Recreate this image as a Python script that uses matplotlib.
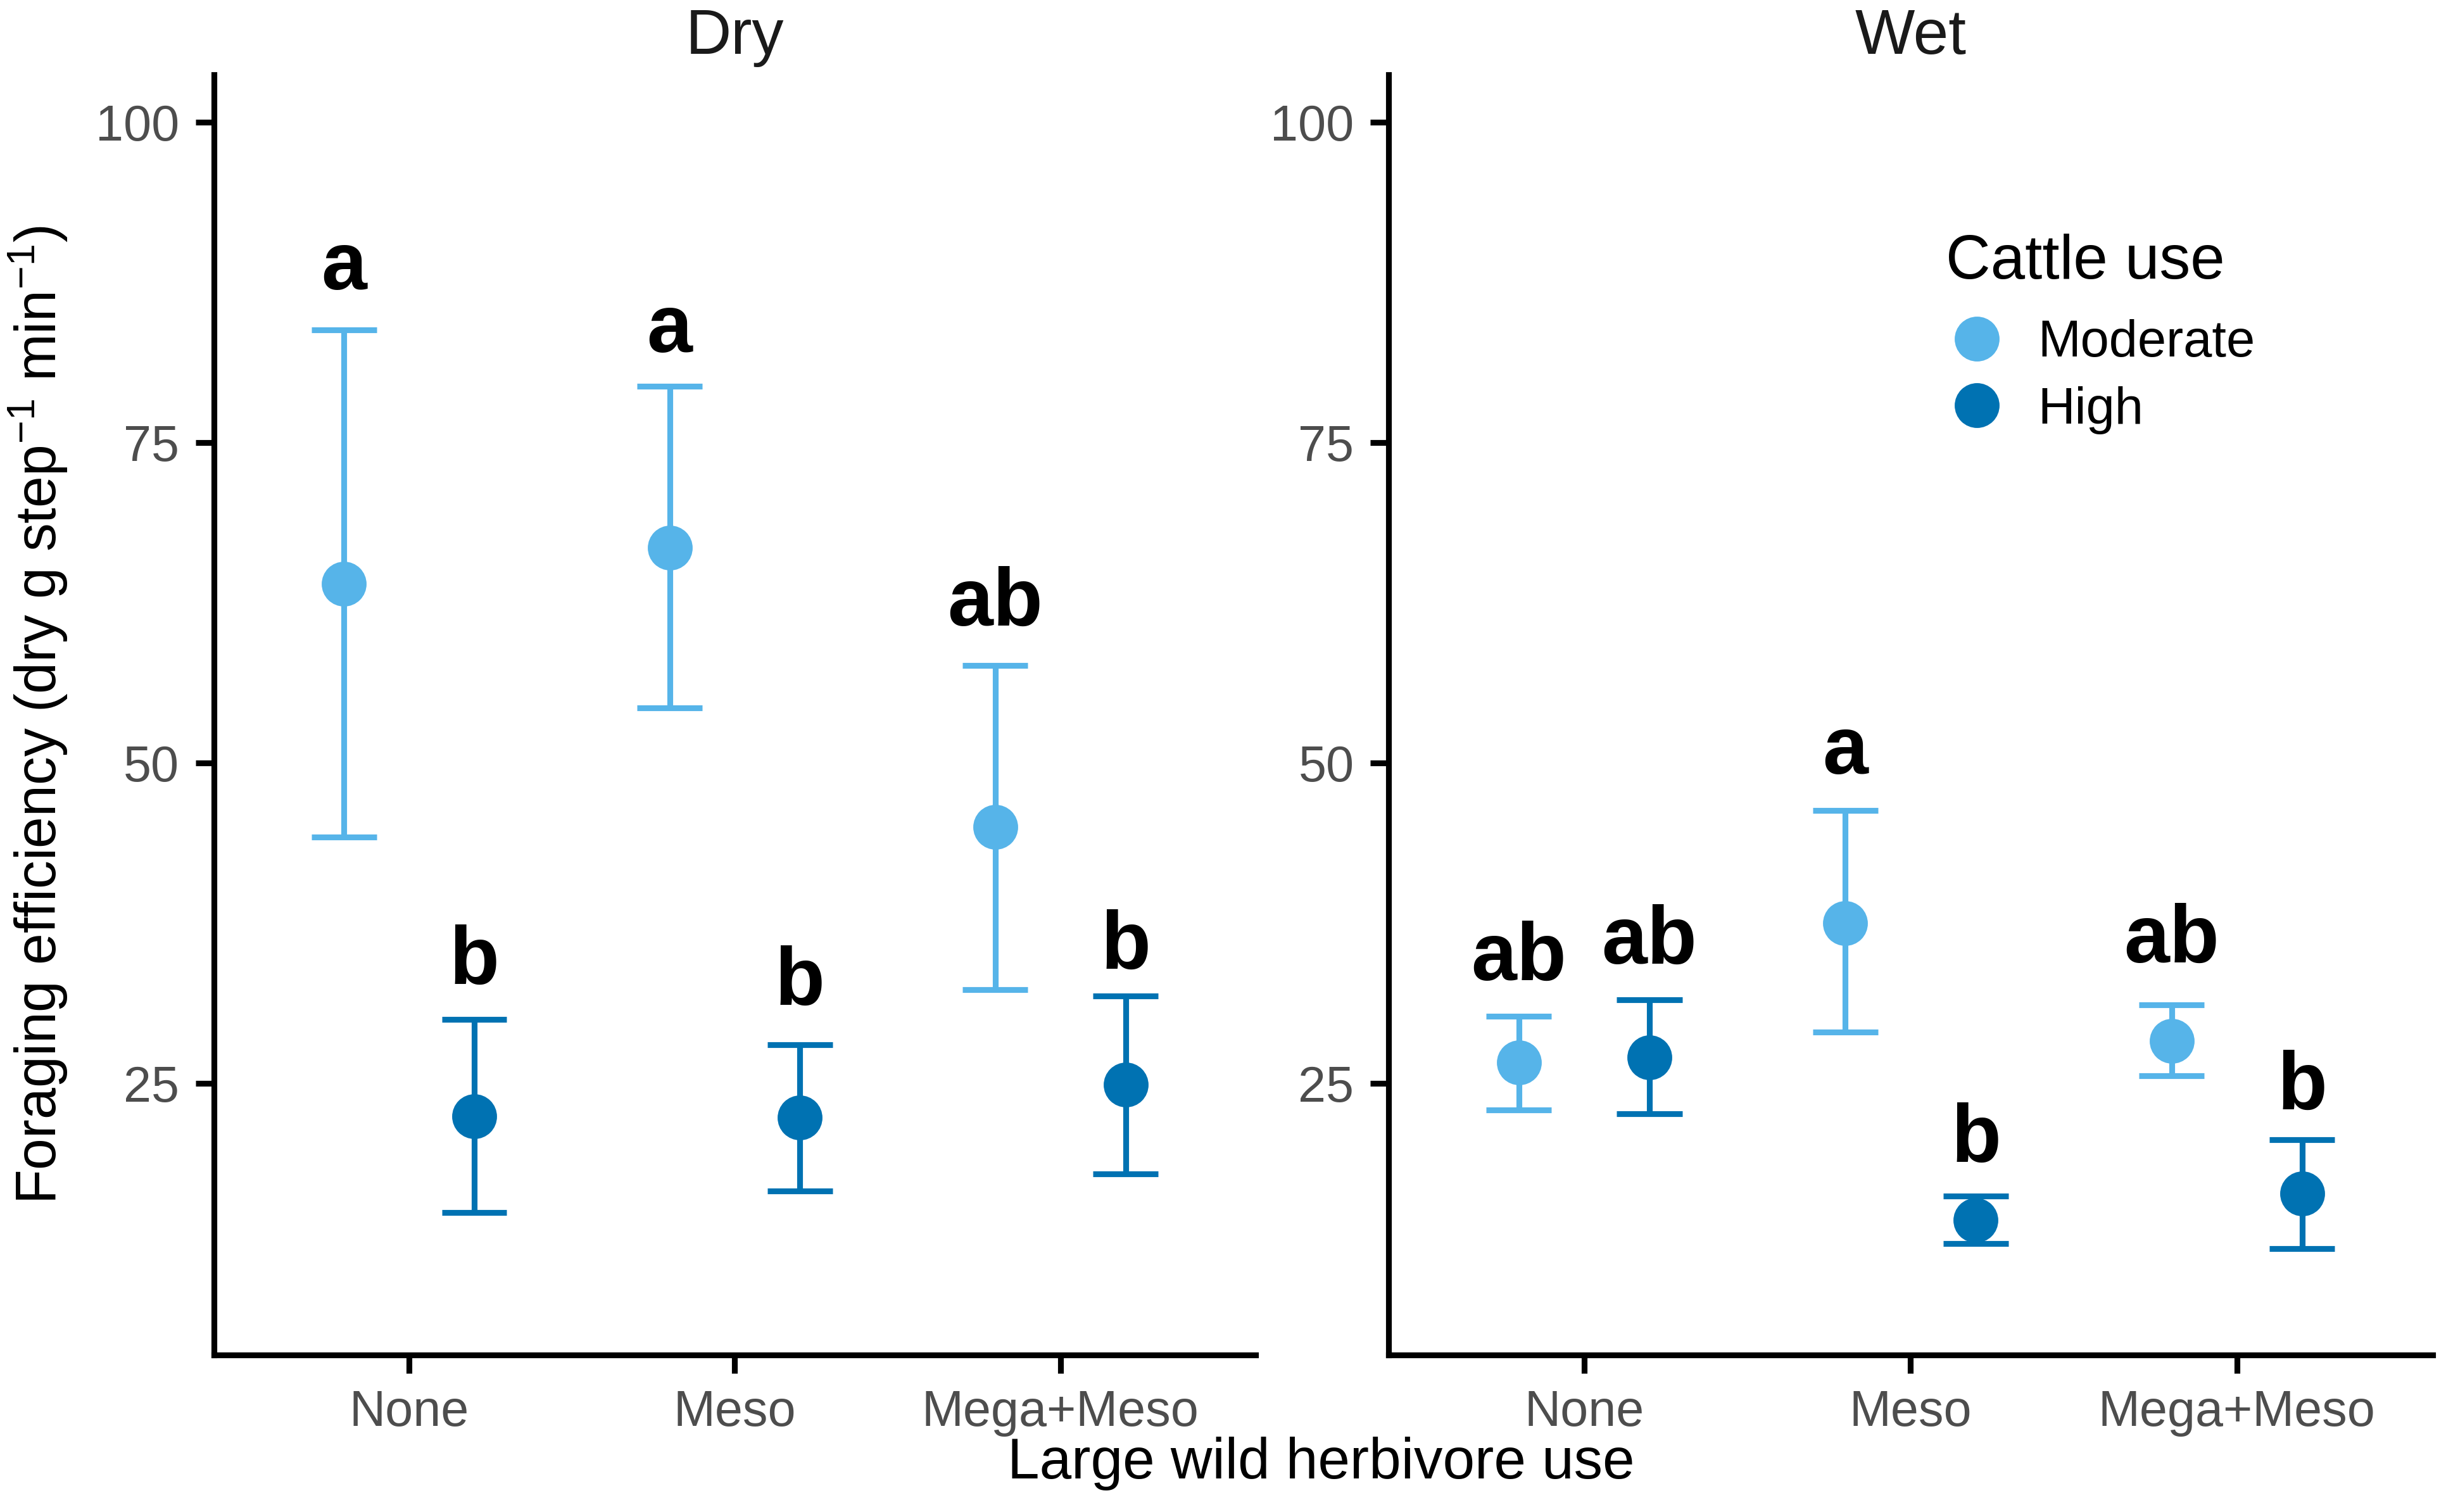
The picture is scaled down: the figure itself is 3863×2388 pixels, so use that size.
import matplotlib
matplotlib.use("Agg")
import matplotlib.pyplot as plt
from matplotlib.lines import Line2D
import numpy as np

plt.rcParams['font.family'] = ['Liberation Sans', 'DejaVu Sans']
plt.rcParams['mathtext.fontset'] = 'custom'
plt.rcParams['mathtext.rm'] = 'Liberation Sans'
plt.rcParams['mathtext.it'] = 'Liberation Sans:italic'
plt.rcParams['mathtext.bf'] = 'Liberation Sans:bold'

categories = ["None", "Meso", "Mega+Meso"]
groups = ["Moderate", "High"]
panels = ["Dry", "Wet"]

dry_mod_mean = [64.0, 66.8, 45.0]
dry_mod_lo = [44.2, 54.3, 32.3]
dry_mod_hi = [83.8, 79.4, 57.6]
dry_high_mean = [22.4, 22.3, 24.9]
dry_high_lo = [14.9, 16.6, 17.9]
dry_high_hi = [30.0, 28.0, 31.8]
dry_mod_letters = ["a", "a", "ab"]
dry_high_letters = ["b", "b", "b"]
dry_mod_letter_y = [88.6, 83.7, 62.4]
dry_high_letter_y = [34.4, 32.8, 35.6]

wet_mod_mean = [26.6, 37.5, 28.3]
wet_mod_lo = [22.9, 29.0, 25.6]
wet_mod_hi = [30.2, 46.3, 31.1]
wet_high_mean = [27.0, 14.3, 16.4]
wet_high_lo = [22.6, 12.5, 12.1]
wet_high_hi = [31.5, 16.2, 20.6]
wet_mod_letters = ["ab", "a", "ab"]
wet_high_letters = ["ab", "b", "b"]
wet_mod_letter_y = [34.7, 50.8, 36.1]
wet_high_letter_y = [36.0, 20.5, 24.6]

yticks = [25, 50, 75, 100]

colors = {"Moderate": "#56B4E9", "High": "#0072B2"}
offsets = {"Moderate": -0.2, "High": 0.2}

data = {
    "Dry": {
        "Moderate": (dry_mod_mean, dry_mod_lo, dry_mod_hi, dry_mod_letters, dry_mod_letter_y),
        "High": (dry_high_mean, dry_high_lo, dry_high_hi, dry_high_letters, dry_high_letter_y),
    },
    "Wet": {
        "Moderate": (wet_mod_mean, wet_mod_lo, wet_mod_hi, wet_mod_letters, wet_mod_letter_y),
        "High": (wet_high_mean, wet_high_lo, wet_high_hi, wet_high_letters, wet_high_letter_y),
    },
}

fig = plt.figure(figsize=(3863 / 300, 2388 / 300), dpi=300)
axes_pos = {"Dry": [0.0874, 0.104, 0.426, 0.8465], "Wet": [0.5676, 0.104, 0.427, 0.8465]}

LW = 2.2
x = np.arange(len(categories))
for p in panels:
    ax = fig.add_axes(axes_pos[p])
    for g in groups:
        mean, lo, hi, letters, ly = data[p][g]
        xs = x + offsets[g]
        c = colors[g]
        ax.vlines(xs, lo, hi, color=c, lw=LW, zorder=2)
        ax.hlines(lo, xs - 0.1, xs + 0.1, color=c, lw=LW, zorder=2)
        ax.hlines(hi, xs - 0.1, xs + 0.1, color=c, lw=LW, zorder=2)
        ax.plot(xs, mean, 'o', color=c, ms=17, mew=0, zorder=3)
        for xi, t, yy in zip(xs, letters, ly):
            ax.text(xi, yy, t, ha='center', va='center', fontsize=31,
                    fontweight='bold', color='black')
    ax.set_xlim(-0.6, len(categories) - 0.4)
    ax.set_ylim(3.8, 103.7)
    ax.set_xticks(x)
    ax.set_xticklabels(categories)
    ax.set_yticks(yticks)
    ax.set_yticklabels([str(v) for v in yticks])
    for s in ["top", "right"]:
        ax.spines[s].set_visible(False)
    for s in ["left", "bottom"]:
        ax.spines[s].set_linewidth(LW)
        ax.spines[s].set_color('black')
    ax.tick_params(axis='both', length=7, width=LW, color='black',
                   labelsize=19, labelcolor='#4D4D4D', pad=6)
    ax.set_title(p, fontsize=24, pad=8, color='#1A1A1A')
    if p == "Dry":
        ax.set_ylabel("Foraging efficiency (dry g step$^{-1}$ min$^{-1}$)",
                      fontsize=21.5, labelpad=10)
    if p == "Wet":
        handles = [Line2D([0], [0], marker='o', linestyle='none', color=colors[g],
                          ms=17, mew=0) for g in groups]
        ax.text(0.534, 0.841, "Cattle use", transform=ax.transAxes, ha='left',
                va='baseline', fontsize=23.5, color='black')
        ax.legend(handles, groups, loc='upper left',
                  bbox_to_anchor=(0.534, 0.809), frameon=False, fontsize=19.5,
                  handlelength=1.2, handletextpad=0.58, labelspacing=0.36,
                  borderaxespad=0, borderpad=0)

fig.text(0.54, 0.032, "Large wild herbivore use", ha='center', va='center', fontsize=21.8)

fig.savefig("out.png", dpi=300, facecolor='white')
